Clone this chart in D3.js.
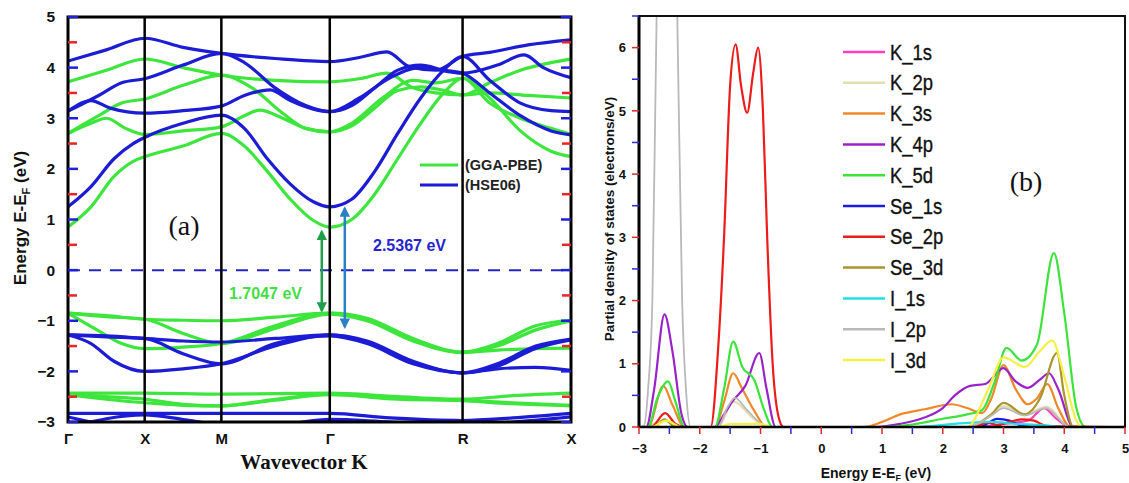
<!DOCTYPE html>
<html>
<head>
<meta charset="utf-8">
<script src="https://d3js.org/d3.v7.min.js"></script>
<style>
  html, body { margin: 0; padding: 0; background: #fff; }
  svg { display: block; }
</style>
</head>
<body>
<svg id="chart" width="1129" height="483"></svg>
<script>
// ---------------- DATA ----------------
const kNodes = [0, 1, 2, 3.414, 5.146, 6.560];
const kLabels = ["Γ", "X", "M", "Γ", "R", "X"];
const bandYTicks = [5, 4, 3, 2, 1, 0, -1, -2, -3];

// GGA-PBE bands [k, E]
const ggaBands = [
  [[0,0.85],[0.3,1.25],[0.6,1.85],[0.85,2.15],[1,2.24],[1.5,2.45],[2,2.7],[2.3,2.45],[2.6,1.95],[2.9,1.4],[3.2,0.98],[3.414,0.85],[3.7,1.0],[4.0,1.5],[4.3,2.2],[4.6,2.9],[4.9,3.5],[5.146,3.79],[5.5,3.4],[5.9,2.75],[6.3,2.35],[6.56,2.24]],
  [[0,2.7],[0.3,2.9],[0.5,3.0],[0.75,2.8],[1,2.68],[1.5,2.75],[2,2.83],[2.3,3.05],[2.5,3.16],[2.8,3.0],[3.1,2.8],[3.414,2.73],[3.7,2.85],[4.0,3.2],[4.3,3.55],[4.6,3.62],[4.9,3.55],[5.146,3.46],[5.5,3.7],[5.9,3.95],[6.3,4.1],[6.56,4.17]],
  [[0,2.7],[0.4,3.05],[0.7,3.3],[1,3.38],[1.5,3.65],[2,3.85],[2.4,3.6],[2.8,3.1],[3.1,2.8],[3.414,2.73],[3.7,2.9],[4.1,3.4],[4.5,3.75],[4.8,3.7],[5.146,3.79],[5.5,3.3],[5.9,3.0],[6.3,2.8],[6.56,2.68]],
  [[0,3.72],[0.5,3.95],[1,4.17],[1.5,4.0],[2,3.85],[2.7,3.75],[3.414,3.72],[3.8,3.78],[4.16,3.89],[4.5,3.6],[4.8,3.5],[5.146,3.46],[5.5,3.5],[6.0,3.45],[6.56,3.4]],
  [[0,-0.85],[0.5,-0.9],[1,-0.97],[1.5,-0.99],[2,-1.0],[2.7,-0.93],[3.414,-0.85],[3.9,-0.95],[4.5,-1.35],[5.146,-1.62],[5.6,-1.45],[6.1,-1.1],[6.56,-0.99]],
  [[0,-0.85],[0.4,-1.2],[0.7,-1.45],[1,-1.55],[1.5,-1.52],[2,-1.45],[2.7,-1.1],[3.414,-0.85],[3.9,-0.97],[4.5,-1.37],[5.146,-1.62],[5.6,-1.5],[6.1,-1.18],[6.56,-1.0]],
  [[0,-0.85],[0.5,-0.92],[1,-0.97],[1.5,-1.25],[2,-1.45],[2.7,-1.15],[3.414,-0.87],[3.9,-1.0],[4.5,-1.4],[5.146,-1.63],[5.6,-1.58],[6.1,-1.55],[6.56,-1.54]],
  [[0,-2.43],[1,-2.43],[2,-2.45],[3.414,-2.43],[4.3,-2.5],[5.146,-2.55],[5.8,-2.48],[6.56,-2.43]],
  [[0,-2.45],[0.5,-2.5],[1,-2.55],[1.5,-2.65],[2,-2.68],[2.7,-2.55],[3.414,-2.45],[4.3,-2.52],[5.146,-2.57],[5.8,-2.62],[6.56,-2.67]],
  [[0,-2.46],[0.5,-2.55],[1,-2.62],[1.5,-2.67],[2,-2.68],[2.7,-2.57],[3.414,-2.46],[4.3,-2.55],[5.146,-2.58],[5.8,-2.64],[6.56,-2.68]]
];

// HSE06 bands [k, E]
const hseBands = [
  [[0,1.25],[0.3,1.65],[0.6,2.2],[0.85,2.5],[1,2.62],[1.5,2.9],[2,3.06],[2.3,2.8],[2.6,2.2],[2.9,1.7],[3.2,1.35],[3.414,1.25],[3.7,1.4],[4.0,1.95],[4.3,2.7],[4.6,3.4],[4.9,3.95],[5.146,4.22],[5.5,3.75],[5.9,3.3],[6.3,3.15],[6.56,3.13]],
  [[0,3.14],[0.3,3.35],[0.55,3.2],[1,3.1],[1.5,3.15],[2,3.24],[2.3,3.45],[2.635,3.56],[2.9,3.35],[3.2,3.18],[3.414,3.13],[3.7,3.25],[4.0,3.6],[4.3,3.95],[4.6,4.05],[4.9,3.95],[5.146,3.89],[5.5,3.5],[5.9,3.05],[6.3,2.75],[6.56,2.67]],
  [[0,3.14],[0.4,3.45],[0.7,3.7],[1,3.78],[1.5,4.05],[2,4.28],[2.3,4.1],[2.7,3.6],[3.1,3.25],[3.414,3.13],[3.8,3.4],[4.2,3.8],[4.6,4.0],[5.146,3.89],[5.6,4.05],[5.95,4.25],[6.2,4.0],[6.56,3.8]],
  [[0,4.13],[0.5,4.35],[1,4.58],[1.5,4.4],[2,4.28],[2.7,4.18],[3.414,4.12],[3.8,4.2],[4.16,4.31],[4.45,4.02],[4.8,3.95],[5.146,4.22],[5.5,4.3],[6.0,4.45],[6.56,4.55]],
  [[0,-1.28],[0.5,-1.3],[1,-1.35],[1.5,-1.4],[2,-1.42],[2.7,-1.35],[3.414,-1.28],[3.9,-1.4],[4.5,-1.8],[5.146,-2.03],[5.6,-1.85],[6.1,-1.5],[6.56,-1.36]],
  [[0,-1.28],[0.3,-1.45],[0.6,-1.8],[1,-2.0],[1.5,-1.95],[2,-1.85],[2.7,-1.5],[3.414,-1.28],[3.9,-1.42],[4.5,-1.82],[5.146,-2.03],[5.6,-1.9],[6.1,-1.55],[6.56,-1.38]],
  [[0,-1.28],[0.5,-1.32],[1,-1.35],[1.5,-1.65],[2,-1.85],[2.7,-1.45],[3.414,-1.3],[3.9,-1.45],[4.5,-1.85],[5.146,-2.03],[5.6,-1.95],[6.1,-1.92],[6.56,-1.98]],
  [[0,-2.83],[1,-2.83],[2,-2.83],[3.414,-2.83],[4.2,-2.92],[5.146,-2.97],[5.8,-2.92],[6.56,-2.83]],
  [[0,-2.9],[0.3,-3.0],[0.6,-3.1],[1,-3.15],[1.5,-3.1],[2,-3.05],[2.7,-3.05],[3.414,-2.95],[4.2,-3.0],[5.146,-3.05],[5.8,-3.0],[6.56,-2.9]],
  [[0,-3.1],[1,-2.86],[1.5,-2.95],[2,-3.05],[3.414,-3.1],[5.146,-3.1],[6.56,-3.1]]
];

// band gap arrows [k, E_from, E_to]
const gapArrowGGA = [3.31, 0.76, -0.8];
const gapArrowHSE = [3.61, 1.22, -1.12];
const gapLabels = ["1.7047 eV", "2.5367 eV"];

// PDOS
const dosXTicks = [-3, -2, -1, 0, 1, 2, 3, 4, 5];
const dosYTicks = [0, 1, 2, 3, 4, 5, 6];
const dosNames = ["K_1s","K_2p","K_3s","K_4p","K_5d","Se_1s","Se_2p","Se_3d","I_1s","I_2p","I_3d"];
const dosColors = ["#ff3fbf","#e6dcb2","#f0872a","#9a22c8","#3be33b","#1a1ae0","#ec1c1c","#a8952f","#22dfe6","#b9b9b9","#f4f048"];

const K_1s = [[-3,0],[2.5,0],[3.0,0.05],[3.4,0.1],[3.67,0.3],[3.85,0.15],[4.1,0],[5,0]];
const K_2p = [[-3,0],[-2.9,0],[-2.6,0.1],[-2.3,0],[-1.7,0],[-1.45,0.4],[-1.1,0.12],[-0.9,0],[2.4,0],[2.8,0.2],[3.0,0.33],[3.35,0.2],[3.7,0.32],[4.1,0],[5,0]];
const K_3s = [[-3,0],[-2.85,0],[-2.6,0.65],[-2.45,0.35],[-2.25,0],[-1.75,0],[-1.6,0.4],[-1.45,0.85],[-1.3,0.6],[-1.1,0.25],[-0.9,0],[0.7,0],[1.0,0.08],[1.3,0.2],[1.7,0.28],[2.15,0.36],[2.4,0.3],[2.65,0.22],[2.8,0.45],[3.0,0.98],[3.2,0.6],[3.4,0.36],[3.55,0.45],[3.72,0.68],[3.9,0.3],[4.1,0],[5,0]];
const K_4p = [[-3,0],[-2.88,0],[-2.75,0.6],[-2.58,1.78],[-2.45,1.2],[-2.3,0.2],[-2.2,0],[-1.75,0],[-1.6,0.2],[-1.45,0.42],[-1.25,0.65],[-1.02,1.17],[-0.9,0.6],[-0.75,0],[0.9,0],[1.3,0.05],[1.7,0.15],[2.0,0.3],[2.2,0.5],[2.45,0.65],[2.7,0.68],[3.0,0.93],[3.2,0.72],[3.4,0.62],[3.6,0.75],[3.75,0.85],[3.9,0.6],[4.15,0],[5,0]];
const K_5d = [[-3,0],[-2.85,0],[-2.7,0.45],[-2.52,0.72],[-2.4,0.4],[-2.25,0],[-1.75,0],[-1.6,0.6],[-1.45,1.35],[-1.3,0.95],[-1.1,0.74],[-0.95,0.3],[-0.8,0],[1.0,0],[1.5,0.04],[2.0,0.13],[2.4,0.2],[2.65,0.27],[2.85,0.7],[3.05,1.25],[3.3,1.05],[3.55,1.3],[3.83,2.75],[4.0,1.8],[4.2,0.3],[4.35,0],[5,0]];
const Se_1s = [[-3,0],[2.6,0],[2.9,0.13],[3.1,0.1],[3.3,0.02],[3.6,0],[5,0]];
const Se_2p = [[-3,0],[-2.8,0],[-2.57,0.22],[-2.4,0.05],[-2.25,0],[-1.82,0],[-1.7,1.2],[-1.6,3.0],[-1.5,5.4],[-1.41,6.05],[-1.32,5.4],[-1.22,4.97],[-1.12,5.6],[-1.04,6.0],[-0.96,5.0],[-0.89,3.0],[-0.8,1.0],[-0.7,0.15],[-0.62,0],[2.5,0],[2.75,0.07],[2.9,0.03],[3.1,0.08],[3.3,0.12],[3.5,0.1],[3.7,0.02],[5,0]];
const Se_3d = [[-3,0],[-2.75,0],[-2.58,0.12],[-2.4,0],[2.4,0],[2.8,0.2],[3.0,0.38],[3.35,0.2],[3.6,0.45],[3.88,1.17],[4.0,0.5],[4.15,0],[5,0]];
const I_1s = [[-3,0],[1.5,0],[2.2,0.05],[2.8,0.08],[3.2,0.05],[3.6,0.03],[4,0],[5,0]];
const I_2p = [[-3,0],[-2.92,0.02],[-2.85,0.6],[-2.78,2],[-2.71,6.5],[-2.62,10],[-2.54,11],[-2.45,10],[-2.37,6.5],[-2.29,2],[-2.22,0.5],[-2.15,0],[-1.7,0],[-1.55,0.3],[-1.42,0.46],[-1.25,0.3],[-1.05,0.1],[-0.9,0],[2.4,0],[2.8,0.18],[3.0,0.3],[3.35,0.18],[3.7,0.3],[4.0,0.05],[4.1,0],[5,0]];
const I_3d = [[-3,0],[-2.8,0],[-2.55,0.1],[-2.3,0],[-1.7,0],[-1.5,0.05],[-1.0,0.05],[-0.8,0],[2.4,0],[2.75,0.6],[3.0,1.1],[3.35,0.95],[3.6,1.2],[3.8,1.37],[4.0,0.8],[4.2,0.1],[4.3,0],[5,0]];
const dosSeries = [K_1s, K_2p, K_3s, K_4p, K_5d, Se_1s, Se_2p, Se_3d, I_1s, I_2p, I_3d];

// ---------------- DRAW ----------------
const svg = d3.select("#chart");
const SANS = "'Liberation Sans', Arial, sans-serif";
const SERIF = "'Liberation Serif', 'Times New Roman', serif";
const GREEN = "#3de53d", BLUE = "#1c1cd4";

// ===== Panel (a) =====
const ax = {l: 68, r: 571, t: 17, b: 422};
const xB = d3.scaleLinear().domain([kNodes[0], kNodes[kNodes.length-1]]).range([ax.l, ax.r]);
const yB = d3.scaleLinear().domain([-3, 5]).range([ax.b, ax.t]);

const defs = svg.append("defs");
defs.append("clipPath").attr("id", "clipA").append("rect")
  .attr("x", ax.l).attr("y", ax.t).attr("width", ax.r - ax.l).attr("height", ax.b - ax.t);

const gA = svg.append("g");
const lineB = d3.line().x(d => xB(d[0])).y(d => yB(d[1])).curve(d3.curveMonotoneX);

const bandG = gA.append("g").attr("clip-path", "url(#clipA)");
bandG.selectAll("path.gga").data(ggaBands).join("path").attr("class", "gga")
  .attr("d", lineB).attr("fill", "none").attr("stroke", GREEN).attr("stroke-width", 3.2);
bandG.selectAll("path.hse").data(hseBands).join("path").attr("class", "hse")
  .attr("d", lineB).attr("fill", "none").attr("stroke", BLUE).attr("stroke-width", 3.2);

// Fermi level
gA.append("line").attr("x1", ax.l).attr("x2", ax.r).attr("y1", yB(0)).attr("y2", yB(0))
  .attr("stroke", "#2424c4").attr("stroke-width", 2).attr("stroke-dasharray", "12,9");

// high symmetry vertical lines
gA.selectAll("line.hs").data(kNodes.slice(1, -1)).join("line").attr("class", "hs")
  .attr("x1", d => xB(d)).attr("x2", d => xB(d)).attr("y1", ax.t).attr("y2", ax.b)
  .attr("stroke", "#000").attr("stroke-width", 2.5);

// frame
gA.append("rect").attr("x", ax.l).attr("y", ax.t).attr("width", ax.r - ax.l).attr("height", ax.b - ax.t)
  .attr("fill", "none").attr("stroke", "#000").attr("stroke-width", 3);

// inward ticks on left and right
const majA = d3.range(-3, 5.01, 1), minA = d3.range(-2.5, 5, 1);
[[ax.l, 1], [ax.r, -1]].forEach(([x0, dir]) => {
  gA.selectAll(null).data(majA).join("line")
    .attr("x1", x0).attr("x2", x0 + dir * 10).attr("y1", d => yB(d)).attr("y2", d => yB(d))
    .attr("stroke", "#2020d8").attr("stroke-width", 2.5);
  gA.selectAll(null).data(minA).join("line")
    .attr("x1", x0).attr("x2", x0 + dir * 9).attr("y1", d => yB(d)).attr("y2", d => yB(d))
    .attr("stroke", "#e82424").attr("stroke-width", 2.5);
});

// y tick labels
const yAxA = gA.append("g").attr("transform", `translate(${ax.l},0)`)
  .call(d3.axisLeft(yB).tickValues(bandYTicks).tickSize(0).tickPadding(13).tickFormat(d3.format("d")));
yAxA.select(".domain").remove();
yAxA.selectAll("text").attr("font-family", SANS).attr("font-size", 15.5).attr("font-weight", "bold").attr("fill", "#111");

// x tick labels
const xAxA = gA.append("g").attr("transform", `translate(0,${ax.b})`)
  .call(d3.axisBottom(xB).tickValues(kNodes).tickSize(0).tickPadding(11).tickFormat((d, i) => kLabels[i]));
xAxA.select(".domain").remove();
xAxA.selectAll("text").attr("font-family", SANS).attr("font-size", 15).attr("font-weight", "bold").attr("fill", "#111");

// axis titles
const yt = gA.append("text").attr("transform", "translate(26,218) rotate(-90)").attr("text-anchor", "middle")
  .attr("font-family", SANS).attr("font-size", 17).attr("font-weight", "bold").attr("fill", "#111");
yt.append("tspan").text("Energy E-E");
yt.append("tspan").text("F").attr("font-size", 11).attr("dy", 4);
yt.append("tspan").text(" (eV)").attr("dy", -4);

gA.append("text").attr("x", 304).attr("y", 469).attr("text-anchor", "middle")
  .attr("font-family", SERIF).attr("font-size", 21).attr("font-weight", "bold").attr("fill", "#111")
  .text("Wavevector K");

gA.append("text").attr("x", 184).attr("y", 235).attr("text-anchor", "middle")
  .attr("font-family", SERIF).attr("font-size", 28).attr("fill", "#111").text("(a)");

// gap arrows
function arrowHead(id, color) {
  defs.append("marker").attr("id", id).attr("viewBox", "0 0 10 10").attr("refX", 8).attr("refY", 5)
    .attr("markerWidth", 4.2).attr("markerHeight", 4.2).attr("orient", "auto-start-reverse")
    .attr("markerUnits", "strokeWidth")
    .append("path").attr("d", "M0,0 L10,5 L0,10 z").attr("fill", color);
}
arrowHead("arrG", "#1f9e4c");
arrowHead("arrB", "#2b7fc4");
[[gapArrowGGA, "#1f9e4c", "arrG"], [gapArrowHSE, "#2b7fc4", "arrB"]].forEach(([a, c, m]) => {
  gA.append("line").attr("x1", xB(a[0])).attr("x2", xB(a[0])).attr("y1", yB(a[1])).attr("y2", yB(a[2]))
    .attr("stroke", c).attr("stroke-width", 2.5)
    .attr("marker-start", `url(#${m})`).attr("marker-end", `url(#${m})`);
});
gA.append("text").attr("x", 229).attr("y", 299).attr("font-family", SANS).attr("font-size", 16)
  .attr("font-weight", "bold").attr("fill", "#44dd44").text(gapLabels[0]);
gA.append("text").attr("x", 373).attr("y", 251).attr("font-family", SANS).attr("font-size", 16)
  .attr("font-weight", "bold").attr("fill", "#2626cc").text(gapLabels[1]);

// legend (a)
[["(GGA-PBE)", GREEN, 165], ["(HSE06)", BLUE, 185]].forEach(([t, c, y]) => {
  gA.append("line").attr("x1", 420).attr("x2", 458).attr("y1", y).attr("y2", y)
    .attr("stroke", c).attr("stroke-width", 3);
  gA.append("text").attr("x", 465).attr("y", y + 5).attr("font-family", SANS).attr("font-size", 14.5)
    .attr("font-weight", "bold").attr("fill", "#222").text(t);
});

// ===== Panel (b) =====
const bx = {l: 639, r: 1125, t: 16, b: 427};
const xD = d3.scaleLinear().domain([-3, 5]).range([bx.l, bx.r]);
const yD = d3.scaleLinear().domain([0, 6.5]).range([bx.b, bx.t]);
defs.append("clipPath").attr("id", "clipB").append("rect")
  .attr("x", bx.l).attr("y", bx.t).attr("width", bx.r - bx.l).attr("height", bx.b - bx.t);

const gB = svg.append("g");
const lineD = d3.line().x(d => xD(d[0])).y(d => yD(d[1])).curve(d3.curveMonotoneX);
gB.append("g").attr("clip-path", "url(#clipB)")
  .selectAll("path").data(dosSeries).join("path")
  .attr("d", lineD).attr("fill", "none")
  .attr("stroke", (d, i) => dosColors[i]).attr("stroke-width", (d, i) => i === 9 ? 1.8 : 2.2);

// frame
gB.append("rect").attr("x", bx.l).attr("y", bx.t).attr("width", bx.r - bx.l).attr("height", bx.b - bx.t)
  .attr("fill", "none").attr("stroke", "#111").attr("stroke-width", 2);
gB.append("line").attr("x1", bx.l).attr("x2", bx.l).attr("y1", bx.t).attr("y2", bx.b + 1)
  .attr("stroke", "#000").attr("stroke-width", 3);
gB.append("line").attr("x1", bx.l).attr("x2", bx.r).attr("y1", bx.b).attr("y2", bx.b)
  .attr("stroke", "#000").attr("stroke-width", 2.5);

// outward ticks
const majYB = d3.range(0, 6.01, 1), minYB = d3.range(0.5, 6.6, 1);
gB.selectAll(null).data(majYB).join("line")
  .attr("x1", bx.l - 7).attr("x2", bx.l).attr("y1", d => yD(d)).attr("y2", d => yD(d))
  .attr("stroke", "#e02a2a").attr("stroke-width", 1.5);
gB.selectAll(null).data(minYB).join("line")
  .attr("x1", bx.l - 7).attr("x2", bx.l).attr("y1", d => yD(d)).attr("y2", d => yD(d))
  .attr("stroke", "#2a2ad8").attr("stroke-width", 1.5);
const majXB = d3.range(-3, 5.01, 1), minXB = d3.range(-2.5, 5, 1);
gB.selectAll(null).data(majXB).join("line")
  .attr("x1", d => xD(d)).attr("x2", d => xD(d)).attr("y1", bx.b).attr("y2", bx.b + 7)
  .attr("stroke", "#e02a2a").attr("stroke-width", 1.5);
gB.selectAll(null).data(minXB).join("line")
  .attr("x1", d => xD(d)).attr("x2", d => xD(d)).attr("y1", bx.b).attr("y2", bx.b + 7)
  .attr("stroke", "#2a2ad8").attr("stroke-width", 1.5);

const yAxB = gB.append("g").attr("transform", `translate(${bx.l},0)`)
  .call(d3.axisLeft(yD).tickValues(dosYTicks).tickSize(0).tickPadding(13).tickFormat(d3.format("d")));
yAxB.select(".domain").remove();
yAxB.selectAll("text").attr("font-family", SANS).attr("font-size", 13).attr("font-weight", "bold").attr("fill", "#111");

const xAxB = gB.append("g").attr("transform", `translate(0,${bx.b})`)
  .call(d3.axisBottom(xD).tickValues(dosXTicks).tickSize(0).tickPadding(17).tickFormat(d3.format("d")));
xAxB.select(".domain").remove();
xAxB.selectAll("text").attr("font-family", SANS).attr("font-size", 13).attr("font-weight", "bold").attr("fill", "#111");

const xtB = gB.append("text").attr("x", 876).attr("y", 478).attr("text-anchor", "middle")
  .attr("font-family", SANS).attr("font-size", 14).attr("font-weight", "bold").attr("fill", "#111");
xtB.append("tspan").text("Energy E-E");
xtB.append("tspan").text("F").attr("font-size", 9).attr("dy", 3);
xtB.append("tspan").text(" (eV)").attr("dy", -3);

gB.append("text").attr("transform", "translate(614,219) rotate(-90)").attr("text-anchor", "middle")
  .attr("font-family", SANS).attr("font-size", 13.5).attr("font-weight", "bold").attr("fill", "#111")
  .text("Partial density of states (electrons/eV)");

gB.append("text").attr("x", 1026).attr("y", 191).attr("text-anchor", "middle")
  .attr("font-family", SERIF).attr("font-size", 28).attr("fill", "#111").text("(b)");

// legend (b)
const legY = d3.scaleLinear().domain([0, dosNames.length - 1]).range([52, 360]);
const leg = gB.selectAll("g.leg").data(dosNames).join("g").attr("class", "leg")
  .attr("transform", (d, i) => `translate(0,${legY(i)})`);
leg.append("line").attr("x1", 843).attr("x2", 885).attr("y1", 0).attr("y2", 0)
  .attr("stroke", (d, i) => dosColors[i]).attr("stroke-width", 2.5);
leg.append("text").attr("transform", "translate(890,7.5) scale(0.84,1)")
  .attr("font-family", SANS).attr("font-size", 22)
  .attr("fill", "#111").attr("stroke", "#111").attr("stroke-width", 0.35).text(d => d);
</script>
</body>
</html>
